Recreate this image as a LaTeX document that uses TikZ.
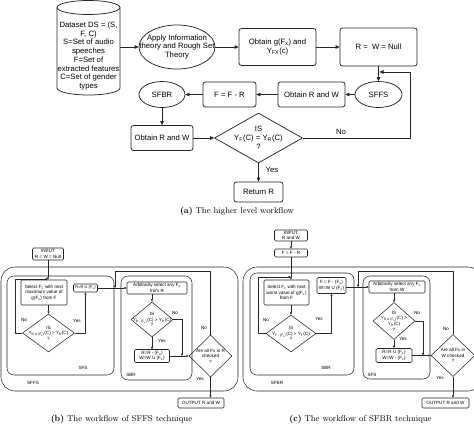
\documentclass[tikz,border=0pt]{standalone}
\usepackage{fontspec}
\newfontfamily\arial{Liberation Sans}
\usetikzlibrary{arrows.meta,shapes.geometric,calc}
\begin{document}
\begin{tikzpicture}[x=1pt,y=-1pt,
  line join=round,
  lb/.style={font=\arial\fontsize{7.7}{8.7}\selectfont},
  ls/.style={font=\arial\fontsize{4.6}{5.6}\selectfont},
  topline/.style={line width=0.75pt, draw=black!85},
  botline/.style={line width=0.55pt, draw=black!85},
  tb/.style={draw, topline, rounded corners=2.5pt, align=center, inner sep=0pt, lb},
  sb/.style={draw, botline, rounded corners=1.2pt, align=center, inner sep=0pt, ls},
  tell/.style={draw, topline, ellipse, inner sep=0pt},
  tdia/.style={draw, topline, diamond, inner sep=0pt},
  sdia/.style={draw, botline, diamond, inner sep=0pt},
  dtxt/.style={align=center, inner sep=0pt},
  ta/.style={topline, -{Triangle[length=4pt,width=3.6pt]}},
  sa/.style={botline, -{Triangle[length=2.4pt,width=2.2pt]}},
  tl/.style={lb, inner sep=0pt},
  sl/.style={ls, inner sep=0pt},
  grp/.style={botline, rounded corners=7pt},
  outerbox/.style={botline, rounded corners=14pt},
  captxt/.style={font=\fontsize{8.5}{10}\selectfont, inner sep=0pt}
]
\useasboundingbox (0,0) rectangle (474,424);

% ---------------- (a) ----------------
\node[lb, align=center, inner sep=0pt, minimum width=63pt, minimum height=70pt] (ds) at (88.5,56) {Dataset DS = (S,\\F, C)\\S=Set of audio\\speeches\\F=Set of\\extracted features\\C=Set of gender\\types};
\draw[topline] (57,7.5) -- (57,88) arc[start angle=180,end angle=360,x radius=31.5pt,y radius=7pt] -- (120,7.5);
\draw[topline] (88.5,7.5) ellipse [x radius=31.5pt,y radius=7pt];

\node[tell, minimum width=76pt, minimum height=44pt] (apply) at (177,47) {};
\node[lb, dtxt] (applyt) at (apply) {Apply Information\\theory and Rough Set\\Theory};
\node[tb, minimum width=77pt, minimum height=37pt] (og) at (277.5,47) {Obtain g(F\textsubscript{x}) and\\Y\textsubscript{FX}(c)};
\node[tb, minimum width=77pt, minimum height=38pt] (rw) at (378.5,47) {R =\ \ W = Null};
\node[tell, lb, minimum width=47pt, minimum height=26pt] (sffs) at (378.5,94.5) {SFFS};
\node[tb, minimum width=67pt, minimum height=25pt] (orw) at (311.5,94.5) {Obtain R and W};
\node[tb, minimum width=53pt, minimum height=25pt] (ffr) at (229.5,94.5) {F = F - R};
\node[tell, lb, minimum width=46pt, minimum height=26pt] (sfbr) at (162,94.5) {SFBR};
\node[tb, minimum width=62pt, minimum height=25pt] (orw2) at (162,138) {Obtain R and W};
\node[tdia, minimum width=88pt, minimum height=50pt] (dia) at (258.5,138) {};
\node[lb, dtxt] (diat) at (dia) {IS\\Y\textsubscript{F}(C) = Y\textsubscript{R}(C)\\?};
\node[tb, minimum width=49pt, minimum height=20pt] (ret) at (258.5,192) {Return R};

\draw[ta] (ds.east |- apply.west) -- (apply.west);
\draw[ta] (apply.east) -- (og.west);
\draw[ta] (og.east) -- (rw.west);
\draw[ta] (rw.south) -- (sffs.north);
\draw[ta] (sffs.west) -- (orw.east);
\draw[ta] (orw.west) -- (ffr.east);
\draw[ta] (ffr.west) -- (sfbr.east);
\draw[ta] (sfbr.south) -- (orw2.north);
\draw[ta] (orw2.east) -- (dia.west);
\draw[ta] (dia.south) -- (ret.north);
\node[tl] (yes0) at (272,170) {Yes};
\coordinate (fb) at (379.5,72);
\coordinate (fbc) at (410,72);
\draw[ta] (dia.east) -| (fbc) -- (fb);
\node[tl] (no0) at (341,132) {No};

\node[captxt] (capa) at (237,211) {\textbf{(a)} The higher level workflow};

% ---------------- (b) ----------------
\draw[outerbox] (1,267) rectangle (238,391);
\draw[grp] (7,276) rectangle (114,375);
\draw[grp] (121,276) rectangle (192,380);

\node[sb, minimum width=31pt, minimum height=12pt] (inb) at (48,254) {INPUT\\R = W = Null};
\node[sb, minimum width=46pt, minimum height=25pt] (selb) at (44,292.5) {Select F\textsubscript{x} with next\\maximum value of\\g(F\textsubscript{x}) from F};
\node[sb, minimum width=24pt, minimum height=8pt, font=\arial\fontsize{4}{5}\selectfont] (rub) at (85.5,288) {R=R U (F\textsubscript{x})};
\node[sdia, minimum width=52pt, minimum height=38pt] (db1) at (48.5,333) {};
\node[ls, dtxt] (db1t) at (db1) {IS\\Y\textsubscript{R U \{F\textsubscript{x}\}}(C) > Y\textsubscript{R}(C)\\?};
\node[sb, minimum width=60pt, minimum height=12pt] (arbb) at (157,288) {Arbitrarily select any F\textsubscript{x}\\from R};
\node[sdia, minimum width=42pt, minimum height=35pt] (db2) at (152,319.5) {};
\node[ls, dtxt] (db2t) at (db2) {IS\\Y\textsubscript{R - \{F\textsubscript{x}\}}(C) > Y\textsubscript{R}(C)\\?};
\node[sb, minimum width=35pt, minimum height=13pt] (rmb) at (152,356) {R=R - (F\textsubscript{x})\\W=W U (F\textsubscript{x})};
\node[sdia, minimum width=43pt, minimum height=42pt] (bgb) at (210.5,356) {};
\node[ls, dtxt] (bgbt) at (bgb) {Are all Fx in R\\checked\\?};
\node[sb, minimum width=46pt, minimum height=10pt] (outb) at (201,403) {OUTPUT R and W};

\draw[sa] (inb.south) -- (inb.south |- selb.north);
\coordinate (nb1) at (48,279);
\coordinate (nb1l) at (15,279);
\draw[sa] (db1.west) -| (nb1l) -- (nb1);
\draw[sa] (db1.north |- selb.south) -- (db1.north);
\draw[sa] (db1.east) -| (rub.south);
\draw[sa] (rub.east) -- (arbb.west);
\coordinate (jb) at (115,288);
\coordinate (tb1) at (115,271);
\draw[sa] (bgb.north) |- (tb1) -- (jb);
\draw[sa] (db2.north |- arbb.south) -- (db2.north);
\draw[sa] (db2.south) -- (rmb.north);
\coordinate (jb2) at (182,356);
\draw[sa] (db2.east) -| (jb2);
\draw[sa] (rmb.east) -- (bgb.west);
\draw[sa] (bgb.south) -- (bgb.south |- outb.north);

\node[sl] (nob1) at (24,320) {No};
\node[sl] (yesb1) at (77,321) {Yes};
\node[sl] (nob2) at (175,313) {No};
\node[sl] (yesb2) at (162,341) {Yes};
\node[sl] (nob3) at (204,328) {No};
\node[sl] (yesb3) at (200,379) {Yes};
\node[sl] (sfsb) at (83,368) {SFS};
\node[sl] (sbrb) at (131,375) {SBR};
\node[sl] (sffsb) at (33,383) {SFFS};

\node[captxt] (capb) at (121.5,419) {\textbf{(b)} The workflow of SFFS technique};

% ---------------- (c) ----------------
\draw[outerbox] (243,267) rectangle (482,391);
\draw[grp] (250,273) rectangle (354,375);
\draw[grp] (363,276) rectangle (430,379);

\node[sb, minimum width=33pt, minimum height=11pt] (inc) at (291,235.5) {INPUT\\R and W};
\node[sb, minimum width=33pt, minimum height=8pt] (ffc) at (291,253) {F = F - R};
\node[sb, minimum width=45pt, minimum height=25pt] (selc) at (286.5,292.5) {Select F\textsubscript{x} with next\\worst value of g(F\textsubscript{x})\\from F};
\node[sb, minimum width=29pt, minimum height=16pt] (fxc) at (331.5,285.5) {F = F - (F\textsubscript{x})\\W=W U (F\textsubscript{x})};
\node[sdia, minimum width=50pt, minimum height=37pt] (dc1) at (291,333.5) {};
\node[ls, dtxt] (dc1t) at (dc1) {IS\\Y\textsubscript{F - \{F\textsubscript{x}\}}(C) > Y\textsubscript{F}(C)\\?};
\node[sb, minimum width=56pt, minimum height=12pt] (arbc) at (397,287) {Arbitrarily select any F\textsubscript{x}\\from W};
\node[sdia, minimum width=42pt, minimum height=37pt] (dc2) at (394,321) {};
\node[ls, dtxt] (dc2t) at (dc2) {IS\\Y\textsubscript{R U \{F\textsubscript{x}\}}(C) >\\Y\textsubscript{R}(C)\\?};
\node[sb, minimum width=36pt, minimum height=14pt] (rmc) at (394,355.5) {R=R U (F\textsubscript{x})\\W=W - (F\textsubscript{x})};
\node[sdia, minimum width=44pt, minimum height=42pt] (bgc) at (453,355.5) {};
\node[ls, dtxt] (bgct) at (bgc) {Are all Fx in\\W checked\\?};
\node[sb, minimum width=47pt, minimum height=10pt] (outc) at (445.5,403) {OUTPUT R and W};

\draw[sa] (inc.south) -- (ffc.north);
\draw[sa] (ffc.south) -- (ffc.south |- selc.north);
\coordinate (nc1) at (291,277);
\coordinate (nc1l) at (258,277);
\draw[sa] (dc1.west) -| (nc1l) -- (nc1);
\draw[sa] (dc1.north |- selc.south) -- (dc1.north);
\draw[sa] (dc1.east) -| (fxc.south);
\draw[sa] (fxc.east |- arbc.west) -- (arbc.west);
\coordinate (jc) at (358,287);
\coordinate (tc1) at (358,271);
\draw[sa] (bgc.north) |- (tc1) -- (jc);
\draw[sa] (dc2.north |- arbc.south) -- (dc2.north);
\draw[sa] (dc2.south) -- (rmc.north);
\coordinate (jc2) at (423,355.5);
\draw[sa] (dc2.east) -| (jc2);
\draw[sa] (rmc.east) -- (bgc.west);
\draw[sa] (bgc.south) -- (bgc.south |- outc.north);

\node[sl] (noc1) at (266,320) {No};
\node[sl] (yesc1) at (319,319) {Yes};
\node[sl] (noc2) at (417,313) {No};
\node[sl] (yesc2) at (403,339) {Yes};
\node[sl] (noc3) at (446,329) {No};
\node[sl] (yesc3) at (440,378) {Yes};
\node[sl] (sbrc) at (326,368) {SBR};
\node[sl] (sfsc) at (372,375) {SFS};
\node[sl] (sfbrc) at (277,383) {SFBR};

\node[captxt] (capc) at (360.5,419) {\textbf{(c)} The workflow of SFBR technique};
\end{tikzpicture}
\end{document}
